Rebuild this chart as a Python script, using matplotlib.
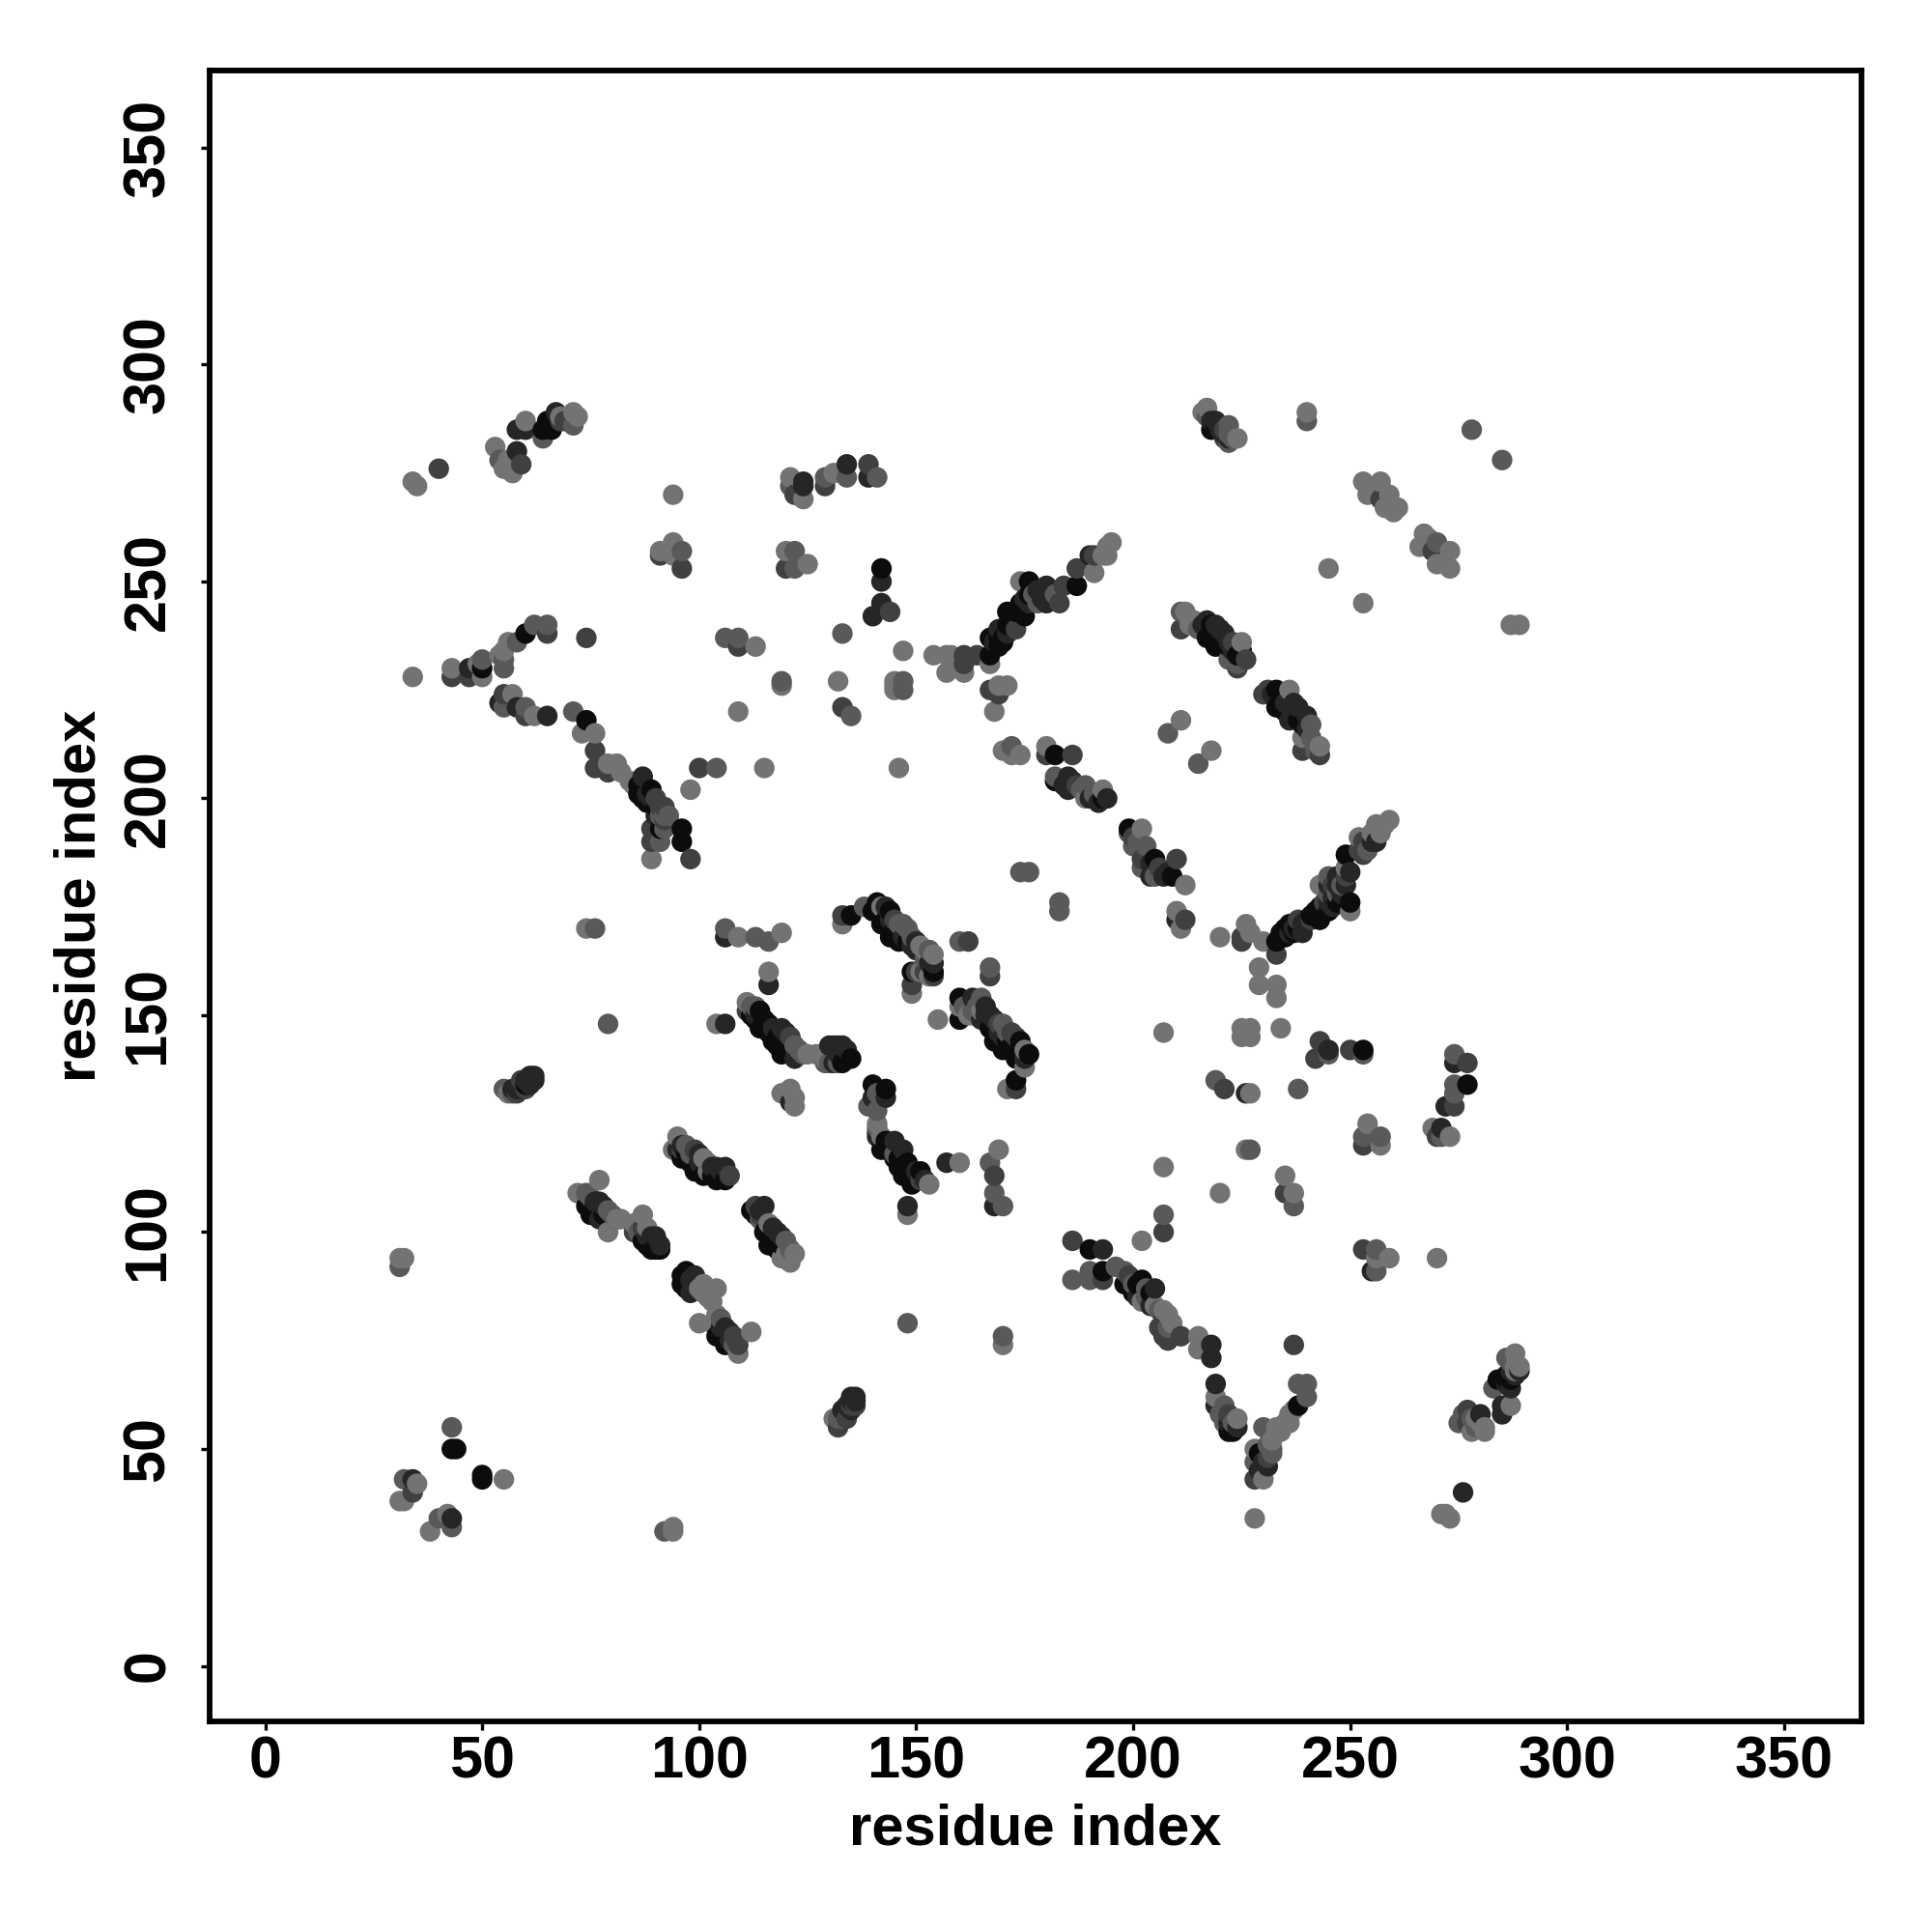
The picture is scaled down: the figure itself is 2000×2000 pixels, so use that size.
import numpy as np
import matplotlib
matplotlib.use("Agg")
import matplotlib.pyplot as plt

# contacts by shade, darkest first: (residue i, residue j)
shade_0 = [(67,288),(64,285),(65,287),(66,285),(142,253),(50,230),(60,238),(86,201),(89,202),(88,199),(91,193),
 (96,193),(96,190),(74,218),(176,250),(176,247),(167,233),(167,237),(169,235),(172,243),(175,242),(174,245),
 (187,249),(218,285),(233,225),(233,221),(217,237),(219,235),(225,234),(182,210),(182,204),(193,200),(199,193),
 (205,186),(209,182),(249,187),(249,182),(233,167),(234,169),(236,171),(243,175),(243,172),(245,174),(250,176),
 (154,160),(160,154),(160,149),(167,147),(168,144),(174,144),(170,142),(173,140),(176,141),(173,135),(253,142),
 (277,134),(198,88),(200,86),(202,89),(193,91),(190,96),(222,54),(238,60),(229,49),(285,66),(284,66),(43,50),(44,50),
 (50,44),(50,43),(114,151),(114,147),(115,149),(117,144),(119,141),(134,140),(133,139),(135,173),(140,174),(141,176),
 (144,174),(142,171),(144,168),(146,167),(149,160),(142,119),(146,115),(148,116),(151,114),(147,113),(149,111),
 (143,133),(140,134),(74,106),(75,104),(96,117),(99,114),(104,112),(106,112),(87,98),(89,96),(112,105),(115,100),
 (116,97),(97,91),(96,88),(104,76),(106,74)]
shade_1 = [(58,285),(60,285),(67,289),(58,280),(124,272),(124,273),(134,277),(139,274),(142,250),(142,245),(140,242),
 (47,230),(54,222),(58,221),(65,219),(87,205),(220,286),(168,236),(169,239),(175,246),(180,249),(180,245),(190,256),
 (217,241),(219,240),(221,238),(238,221),(236,218),(240,219),(185,205),(185,202),(204,182),(256,190),(245,180),
 (210,172),(236,169),(239,169),(245,176),(249,180),(247,182),(154,162),(163,154),(165,149),(167,150),(245,142),
 (271,124),(274,139),(272,129),(226,132),(168,106),(157,116),(193,96),(255,91),(205,87),(218,74),(218,71),(219,65),
 (219,60),(224,55),(230,47),(288,67),(287,64),(285,60),(285,58),(280,58),(276,40),(34,43),(43,34),(119,147),
 (106,168),(116,157),(106,148),(122,140),(131,143),(133,143),(131,139),(150,167),(57,133),(59,134),(61,135),(62,136),
 (121,130),(143,131),(140,131),(141,122),(145,121),(147,119),(148,106),(95,119),(100,118),(106,115),(77,107),(77,103),
 (90,99),(91,97),(115,106),(118,100),(99,90),(98,86),(107,77),(135,62),(134,60),(133,59)]
shade_2 = [(40,276),(59,277),(68,287),(69,287),(122,270),(129,272),(139,277),(144,243),(96,253),(91,256),(120,253),
 (43,228),(47,228),(65,238),(74,237),(109,235),(133,221),(60,219),(76,211),(76,207),(79,206),(90,200),(91,198),
 (89,193),(89,190),(98,186),(100,207),(55,224),(221,283),(161,233),(161,231),(164,233),(173,239),(183,245),(184,249),
 (187,253),(191,256),(167,225),(169,224),(211,239),(224,230),(230,224),(239,211),(243,210),(269,257),(257,269),
 (180,210),(186,210),(202,186),(210,186),(253,190),(253,187),(233,164),(225,167),(225,168),(212,172),(238,172),
 (244,176),(249,182),(162,167),(167,159),(173,133),(172,146),(243,144),(242,140),(250,142),(277,139),(274,129),
 (221,133),(253,120),(270,122),(168,113),(235,109),(207,100),(186,98),(253,96),(193,89),(277,59),(277,56),(208,75),
 (207,76),(211,76),(237,74),(34,40),(228,43),(132,55),(121,145),(111,151),(133,173),(145,172),(149,157),(60,133),
 (113,106),(107,113),(85,100),(109,74),(81,103)]
shade_3 = [(54,278),(64,283),(71,286),(121,272),(129,274),(134,274),(141,274),(96,257),(122,257),(122,253),(133,238),
 (71,220),(50,232),(55,230),(55,232),(58,236),(62,240),(65,240),(106,237),(109,237),(119,227),(147,227),(147,225),
 (135,219),(55,221),(60,221),(92,196),(91,190),(104,207),(222,286),(222,282),(240,287),(278,285),(285,278),(270,259),
 (177,247),(211,243),(222,232),(224,231),(241,217),(208,215),(215,208),(172,212),(182,205),(189,203),(199,192),(203,189),
 (200,189),(202,184),(205,182),(174,183),(176,183),(183,176),(183,174),(247,178),(245,182),(160,167),(153,165),
 (167,161),(165,154),(170,148),(245,141),(253,141),(274,141),(274,134),(274,132),(219,135),(238,133),(253,122),
 (257,122),(271,122),(227,119),(167,116),(168,109),(170,106),(237,106),(207,104),(256,96),(256,91),(186,89),(190,89),
 (190,91),(196,92),(198,91),(203,87),(208,78),(170,76),(221,60),(221,56),(230,55),(238,65),(240,65),(240,62),(232,49),
 (232,50),(228,47),(286,71),(283,64),(275,56),(43,55),(32,43),(40,34),(43,32),(92,31),(122,143),(129,139),(76,170),
 (106,170),(113,168),(116,167),(79,148),(138,175),(148,170),(153,165),(148,79),(57,132),(55,133),(141,132),(139,129),
 (141,128),(97,120),(79,105),(74,109),(114,103),(120,98),(105,80),(31,92),(145,118),(132,57)]
shade_4 = [(34,273),(35,272),(53,281),(55,276),(56,278),(57,275),(60,287),(68,288),(71,289),(72,288),(94,270),(91,257),
 (94,259),(94,256),(120,257),(125,254),(121,274),(124,269),(131,275),(34,228),(43,230),(49,231),(50,228),(54,233),
 (56,236),(55,234),(113,235),(119,226),(132,227),(145,226),(145,227),(145,225),(109,220),(147,234),(57,224),(62,219),
 (73,215),(76,215),(79,208),(81,208),(82,206),(84,204),(89,186),(98,202),(115,207),(146,207),(216,289),(217,290),
 (224,283),(240,289),(253,273),(254,270),(257,273),(259,270),(258,267),(261,267),(260,266),(267,261),(266,258),(268,260),
 (273,257),(270,254),(273,253),(245,253),(253,245),(287,240),(289,240),(154,233),(157,233),(157,229),(161,229),(158,233),
 (167,231),(174,250),(191,252),(193,256),(194,256),(195,259),(194,258),(169,226),(171,226),(168,220),(211,218),(218,211),
 (212,243),(214,241),(225,236),(236,225),(239,214),(243,212),(170,211),(174,210),(172,210),(180,212),(189,200),(193,202),
 (202,193),(212,180),(259,195),(256,194),(252,191),(249,184),(210,174),(211,170),(220,168),(226,171),(227,169),(230,167),
 (229,161),(229,157),(233,157),(233,154),(250,174),(243,180),(155,149),(160,152),(162,150),(165,151),(175,142),(175,138),
 (171,133),(153,159),(207,146),(234,147),(225,147),(227,147),(225,145),(227,145),(226,119),(227,132),(254,125),(257,120),
 (269,124),(273,122),(169,119),(160,116),(207,115),(220,109),(235,113),(237,109),(202,98),(259,94),(256,94),(270,94),
 (202,84),(205,83),(208,81),(215,76),(215,73),(219,62),(224,57),(233,55),(236,56),(236,58),(228,50),(230,43),(228,34),
 (170,74),(288,72),(288,68),(287,60),(281,54),(278,54),(281,55),(272,35),(273,34),(271,35),(55,43),(35,42),(31,38),(32,38),
 (42,35),(38,31),(94,31),(94,32),(111,153),(125,141),(127,141),(129,140),(133,171),(142,175),(151,160),(153,159),(152,165),
 (149,155),(104,148),(109,168),(119,169),(116,160),(74,170),(56,132),(119,132),(121,133),(122,131),(122,129),(141,125),
 (142,122),(102,116),(102,114),(95,122),(94,119),(153,111),(148,104),(72,109),(77,112),(81,103),(79,100),(85,102),(87,104),
 (88,101),(116,102),(119,94),(122,95),(121,93),(31,94),(32,94),(101,88),(104,87),(102,85),(100,79),(104,81),(112,77),(109,72),
 (131,57)]
# further contacts read along the dense diagonal runs
ridge_0 = [(219,286),(60,134),(286,66),(286,67),(287,66),(170,237),(171,240),(172,241),(173,243),(174,243),(175,244),(170,236),
 (169,237),(171,243),(235,168),(235,170),(237,169),(238,170),(241,173),(242,174),(244,174),(247,176),(248,176),(143,121),(143,120),
 (144,119),(145,118),(145,117),(146,117),(147,116),(147,115),(148,114),(149,113),(150,112),(112,150),(113,149),(116,148),(116,146),
 (118,145),(118,143),(120,143),(121,142),(135,140),(143,172),(145,170),(145,168),(146,169),(148,167),(168,147),(171,144),(172,143),
 (174,142),(97,118),(98,116),(101,113),(103,113),(105,113),(75,106),(76,106),(76,104),(78,104),(88,97),(90,97),(91,96),(90,96),
 (113,104),(116,100),(117,98),(118,98),(119,97),(118,96),(96,90),(97,89),(97,87),(105,76),(86,203),(87,200),(90,198),(218,238),
 (218,240),(220,237),(222,235),(224,233),(234,223),(235,220),(238,218),(239,217),(199,88),(201,88),(204,86),(223,54)]
ridge_1 = [(218,287),(219,287),(220,285),(221,284),(222,283),(58,133),(59,133),(61,134),(62,135),(60,135),(61,136),(135,59),(136,61),
 (136,62),(135,61),(289,68),(287,68),(286,65),(171,238),(176,245),(178,248),(179,246),(181,247),(181,248),(237,170),(239,171),(240,172),
 (246,175),(246,177),(248,178),(247,180),(250,183),(255,190),(141,123),(150,114),(152,112),(113,150),(117,147),(120,146),(123,141),
 (130,143),(132,141),(134,142),(132,143),(143,175),(144,172),(147,168),(149,166),(150,165),(153,162),(166,152),(166,150),(168,149),
 (169,146),(170,145),(175,140),(96,120),(100,116),(103,115),(104,115),(105,114),(76,107),(78,106),(88,99),(89,99),(114,105),(117,101),
 (119,99),(98,89),(99,87),(105,78),(106,78),(107,75),(88,201),(89,200),(90,196),(184,203),(186,204),(190,200),(192,199),(194,200),
 (204,185),(207,182),(208,183),(216,240),(220,239),(222,236),(223,234),(232,224),(235,222),(237,222),(237,219),(240,216),(201,85),
 (204,83),(231,46),(229,45),(222,56)]
ridge_2 = [(221,285),(58,132),(59,135),(134,57),(135,60),(136,60),(241,172),(246,180),(252,188),(151,112),(152,160),(154,159),(150,160),
 (169,148),(173,145),(96,119),(99,119),(87,101),(114,104),(108,76),(92,195),(92,198),(187,203),(200,191),(203,187),(206,184),(223,236),
 (226,232),(231,225),(199,90),(207,80),(206,78),(231,48),(222,58)]
ridge_3 = [(217,288),(222,284),(223,283),(133,57),(287,70),(182,247),(178,245),(248,180),(245,178),(254,188),(141,124),(113,152),(112,152),
 (123,142),(124,141),(130,139),(132,139),(146,171),(147,171),(149,168),(152,163),(161,152),(164,152),(171,146),(163,151),(98,118),(75,108),
 (80,104),(86,100),(121,96),(108,74),(91,196),(92,193),(93,196),(188,202),(191,201),(201,190),(215,239),(241,214),(242,212),(242,211),
 (200,88),(203,85),(206,82),(231,51),(220,58),(223,56),(276,58),(278,57),(279,55)]
ridge_4 = [(288,69),(289,69),(257,192),(258,194),(255,192),(151,166),(154,164),(163,150),(101,117),(82,103),(120,95),(100,87),(101,86),
 (102,87),(103,84),(103,79),(85,203),(213,240),(207,82),(209,79),(232,52),(234,54),(235,56),(237,59),(279,57),(280,56)]
shades = [shade_0 + ridge_0, shade_1 + ridge_1, shade_2 + ridge_2, shade_3 + ridge_3, shade_4 + ridge_4]
shade_colors = ["#0c0c0c", "#262626", "#404040", "#595959", "#737373"]

tick_values = [0, 50, 100, 150, 200, 250, 300, 350]
axis_label = "residue index"

xs, ys, cs = [], [], []
for pts, col in zip(shades, shade_colors):
    for a, b in pts:
        xs.append(a); ys.append(b); cs.append(col)
xs = np.array(xs); ys = np.array(ys); cs = np.array(cs)
order = np.lexsort((ys, xs))

plt.rcParams["font.family"] = ["Liberation Sans", "DejaVu Sans"]
plt.rcParams["font.weight"] = "bold"
fig = plt.figure(figsize=(20, 20), dpi=100)
ax = fig.add_axes([217/2000, 1-1782/2000, (1927-217)/2000, (1782-73)/2000])
ax.scatter(xs[order], ys[order], c=cs[order], s=235, linewidths=0, zorder=2)
ax.set_xlim(-12.8, 367.8)
ax.set_ylim(-12.8, 367.8)
ax.set_xticks(tick_values)
ax.set_yticks(tick_values)
ax.set_xticklabels([str(t) for t in tick_values])
ax.set_yticklabels([str(t) for t in tick_values], rotation=90, va="center")
ax.tick_params(axis="both", length=6.5, width=2.4, labelsize=44)
ax.tick_params(axis="x", pad=4)
ax.tick_params(axis="y", pad=18)
for s in ax.spines.values():
    s.set_linewidth(4.2)
ax.set_xlabel(axis_label, fontsize=43, fontweight="bold", labelpad=9)
ax.set_ylabel(axis_label, fontsize=43, fontweight="bold", labelpad=11)
fig.savefig("out.png", dpi=100, facecolor="white")
